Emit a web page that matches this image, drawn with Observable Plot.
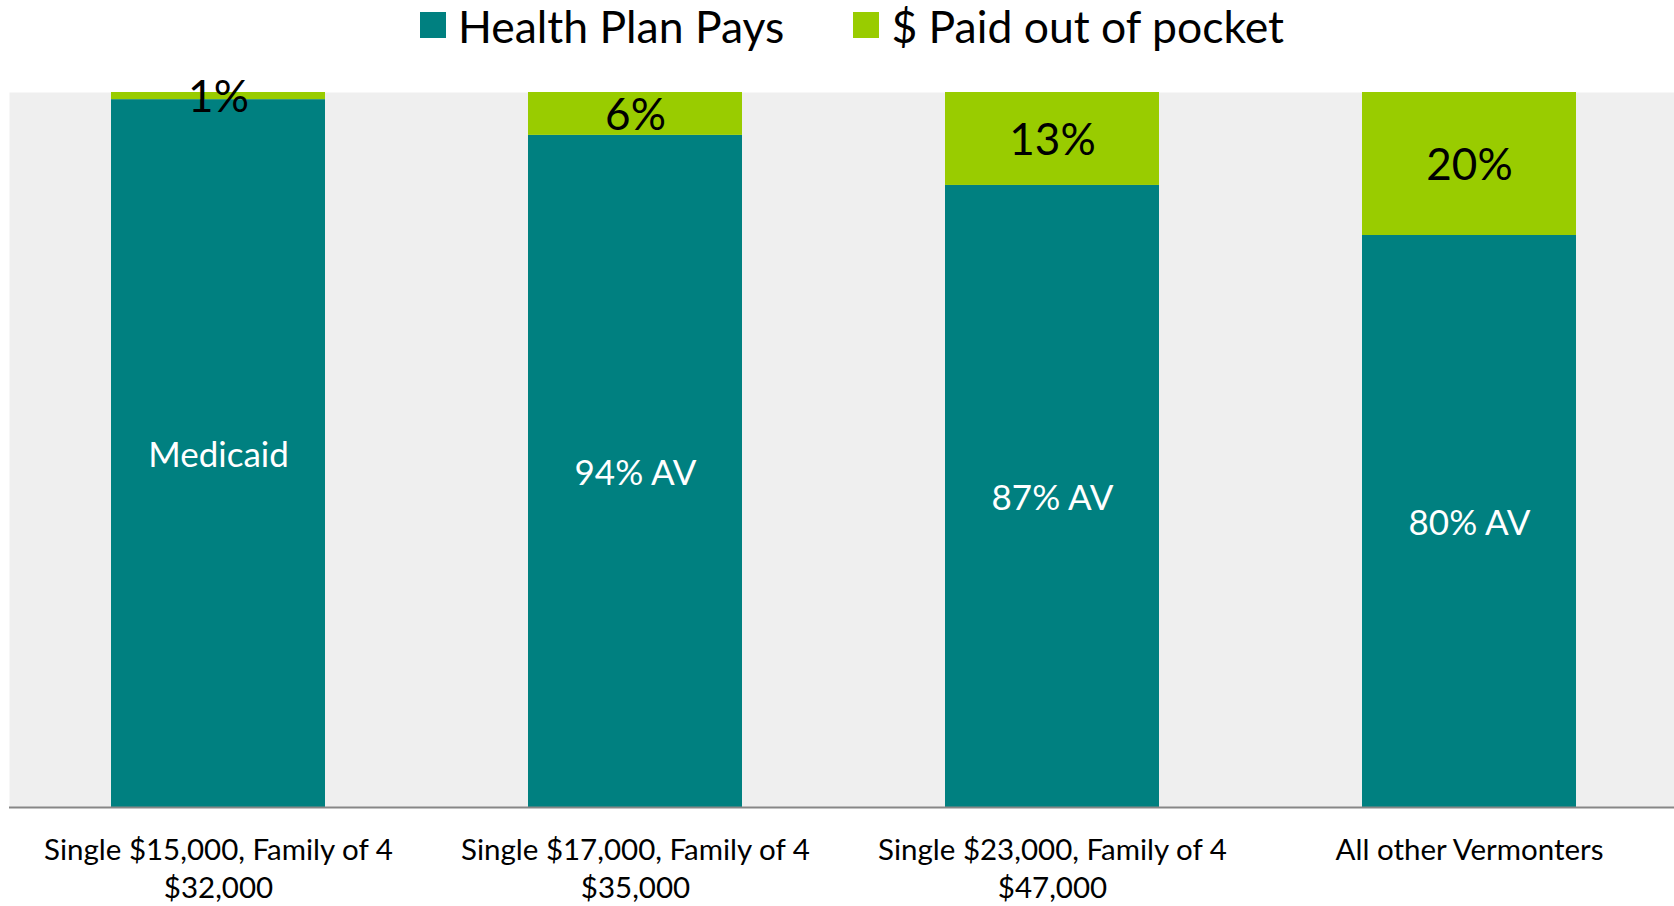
<!DOCTYPE html>
<html>
<head>
<meta charset="utf-8">
<script src="https://cdn.jsdelivr.net/npm/d3@7"></script>
<script src="https://cdn.jsdelivr.net/npm/@observablehq/plot@0.6"></script>
<style>
  body { margin: 0; background: #ffffff; font-family: Lato, "Open Sans", sans-serif; }
  #legend { height: 50px; display: flex; justify-content: center; align-items: center; gap: 69px; font-size: 44.5px; color: #000; padding-left: 30px; box-sizing: border-box; width: 1674px; }
  .item { display: flex; align-items: center; white-space: nowrap; }
  .sw { width: 26px; height: 26px; margin-right: 12px; }
  #chart { padding-top: 10px; }
  #chart svg { display: block; }
</style>
</head>
<body>
<div id="legend"></div>
<div id="chart"></div>
<script>
const categories = [
  "Single $15,000, Family of 4\n$32,000",
  "Single $17,000, Family of 4\n$35,000",
  "Single $23,000, Family of 4\n$47,000",
  "All other Vermonters"
];
const planPays = [99, 94, 87, 80];
const outOfPocket = [1, 6, 13, 20];
const planLabels = ["Medicaid", "94% AV", "87% AV", "80% AV"];
const pocketLabels = ["1%", "6%", "13%", "20%"];
const seriesNames = ["Health Plan Pays", "$ Paid out of pocket"];
const seriesColors = ["#008080", "#99CC00"];

const rows = [];
categories.forEach((c, i) => {
  rows.push({category: c, series: seriesNames[0], value: planPays[i], label: planLabels[i]});
  rows.push({category: c, series: seriesNames[1], value: outOfPocket[i], label: pocketLabels[i]});
});

// legend
const legend = document.getElementById("legend");
seriesNames.forEach((s, i) => {
  const item = document.createElement("div");
  item.className = "item";
  const sw = document.createElement("span");
  sw.className = "sw";
  sw.style.background = seriesColors[i];
  const t = document.createElement("span");
  t.textContent = s;
  item.appendChild(sw);
  item.appendChild(t);
  legend.appendChild(item);
});

const chart = Plot.plot({
  width: 1674,
  height: 846,
  marginTop: 32,
  marginBottom: 99,
  marginLeft: 9,
  marginRight: 0,
  style: {fontFamily: 'Lato, "Open Sans", sans-serif', color: "#000", background: "#fff"},
  x: {domain: categories, range: [9, 1678], paddingInner: 0.487, paddingOuter: 0.2435, label: null},
  y: {domain: [0, 100], axis: null},
  color: {domain: seriesNames, range: seriesColors},
  marks: [
    Plot.frame({fill: "#efefef", stroke: "none"}),
    Plot.barY(rows, {x: "category", y: "value", fill: "series"}),
    Plot.text(rows, Plot.stackY({
      x: "category", y: "value", z: "series", text: "label",
      fill: d => d.series === seriesNames[0] ? "#ffffff" : "#000000",
      fontSize: d => d.series === seriesNames[0] ? 35 : 44,
      dy: 2
    })),
    Plot.ruleY([0], {stroke: "#878787", strokeWidth: 2}),
    Plot.axisX({tickSize: 0, tickPadding: 26, fontSize: 29.5, lineHeight: 1.27, fill: "#000", label: null})
  ]
});
document.getElementById("chart").appendChild(chart);
</script>
</body>
</html>
